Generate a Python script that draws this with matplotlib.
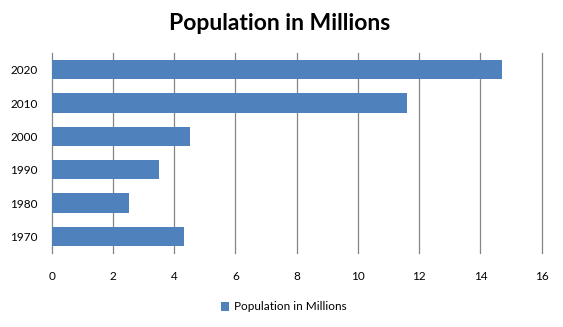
import matplotlib
matplotlib.use("Agg")
import matplotlib.pyplot as plt
from matplotlib.patches import Patch

years = ["1970", "1980", "1990", "2000", "2010", "2020"]
population = [4.32, 2.52, 3.50, 4.52, 11.60, 14.70]
x_ticks = [0, 2, 4, 6, 8, 10, 12, 14, 16]
series_name = "Population in Millions"

plt.rcParams["font.family"] = ["Lato", "DejaVu Sans"]

W, H = 563, 327
fig = plt.figure(figsize=(W / 100, H / 100), dpi=100)
ax = fig.add_axes([51.7 / W, 1 - 253 / H, 490 / W, 200 / H])

bar_color = "#4F81BD"
grid_color = "#868686"

ax.barh(range(len(years)), population, height=0.58, color=bar_color, zorder=3)
ax.set_yticks(range(len(years)))
ax.set_yticklabels(years)
ax.set_ylim(-0.5, len(years) - 0.5)
ax.set_xlim(0, 16)
ax.set_xticks(x_ticks)
ax.set_xticklabels([str(t) for t in x_ticks])

# vertical gridlines at each major tick, unclipped so the last one shows fully
for t in x_ticks[1:]:
    ax.axvline(t, color=grid_color, linewidth=0.9, zorder=0, clip_on=False)

for side in ["top", "right", "bottom"]:
    ax.spines[side].set_visible(False)
ax.spines["left"].set_color(grid_color)
ax.spines["left"].set_linewidth(0.9)
ax.tick_params(axis="both", length=0, labelsize=8.5, colors="#000000")
ax.tick_params(axis="y", pad=10)
ax.tick_params(axis="x", pad=13)

fig.text(280 / W, 1 - 23 / H, series_name, ha="center", va="center",
         fontsize=16.5, fontweight="bold")

handle = Patch(facecolor=bar_color, edgecolor="none")
fig.legend([handle], [series_name], loc="center", bbox_to_anchor=(284 / W, 1 - 307 / H),
           frameon=False, fontsize=8.5, handlelength=0.7, handleheight=0.7,
           handletextpad=0.4)

fig.savefig("out.png", dpi=100)
